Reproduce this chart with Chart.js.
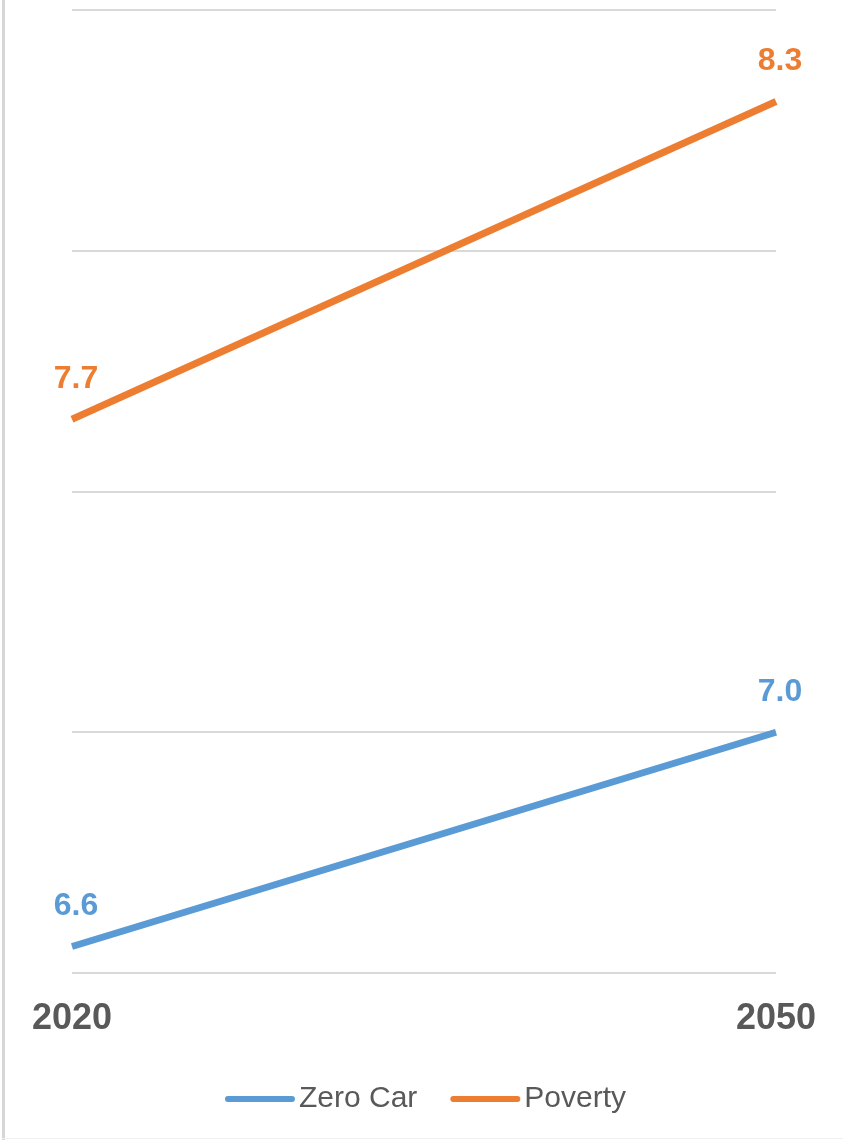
<!DOCTYPE html>
<html>
<head>
<meta charset="utf-8">
<script src="https://cdn.jsdelivr.net/npm/chart.js@4.4.0/dist/chart.umd.min.js"></script>
<style>
    body { margin: 0; background: #fff; }
    .wrap { position: relative; width: 843px; height: 1143px; }
    .frame { position: absolute; left: 2px; top: 0; width: 3px; height: 1140px; background: #d6d6d6; }
    .frame-bottom { position: absolute; left: 2px; top: 1138px; width: 841px; height: 1px; background: #f0f0f0; }
    canvas { position: absolute; left: 0; top: 0; }
</style>
</head>
<body>
<div class="wrap">
    <canvas id="chart" width="843" height="1143"></canvas>
    <div class="frame"></div>
    <div class="frame-bottom"></div>
</div>
<script>
// Data
const years = ['2020', '2050'];
const zeroCar = [6.555, 7.0];
const poverty = [7.65, 8.31];
const seriesNames = ['Zero Car', 'Poverty'];
const seriesColors = ['#5B9BD5', '#ED7D31'];

// value labels above each point
const valueLabels = {
    id: 'valueLabels',
    afterDatasetsDraw(chart) {
        const ctx = chart.ctx;
        ctx.save();
        ctx.font = 'bold 32px Arial, "Liberation Sans", sans-serif';
        ctx.textAlign = 'center';
        ctx.textBaseline = 'middle';
        chart.data.datasets.forEach((ds, i) => {
            const meta = chart.getDatasetMeta(i);
            ctx.fillStyle = ds.borderColor;
            meta.data.forEach((pt, j) => {
                ctx.fillText(ds.data[j].toFixed(1), pt.x + 4, pt.y - 40);
            });
        });
        ctx.restore();
    }
};

// legend with short line markers, drawn by hand
const lineLegend = {
    id: 'lineLegend',
    afterDraw(chart) {
        const ctx = chart.ctx;
        const y = 1099;
        const lineLen = 70;
        const gapText = 4;
        const gapItems = 33;
        ctx.save();
        ctx.font = '30px Arial, "Liberation Sans", sans-serif';
        ctx.textBaseline = 'middle';
        let total = 0;
        chart.data.datasets.forEach((ds, i) => {
            total += lineLen + gapText + ctx.measureText(ds.label).width;
            if (i > 0) total += gapItems;
        });
        let x = (chart.width - total) / 2 + 4;
        chart.data.datasets.forEach(ds => {
            ctx.strokeStyle = ds.borderColor;
            ctx.lineWidth = 6;
            ctx.lineCap = 'round';
            ctx.beginPath();
            ctx.moveTo(x + 3, y);
            ctx.lineTo(x + lineLen - 3, y);
            ctx.stroke();
            x += lineLen + gapText;
            ctx.fillStyle = '#595959';
            ctx.fillText(ds.label, x, y);
            x += ctx.measureText(ds.label).width + gapItems;
        });
        ctx.restore();
    }
};

const ctx = document.getElementById('chart').getContext('2d');
new Chart(ctx, {
    type: 'line',
    data: {
        labels: years,
        datasets: [{
            label: seriesNames[0],
            data: zeroCar,
            borderColor: seriesColors[0],
            backgroundColor: seriesColors[0],
            borderWidth: 7,
            pointRadius: 0,
            tension: 0
        }, {
            label: seriesNames[1],
            data: poverty,
            borderColor: seriesColors[1],
            backgroundColor: seriesColors[1],
            borderWidth: 7,
            pointRadius: 0,
            tension: 0
        }]
    },
    options: {
        responsive: false,
        animation: false,
        layout: {
            padding: { left: 72, right: 67, top: 10, bottom: 70 }
        },
        plugins: {
            legend: { display: false },
            tooltip: { enabled: false }
        },
        scales: {
            x: {
                offset: false,
                grid: { display: false, drawTicks: false },
                border: { display: false },
                ticks: {
                    color: '#595959',
                    font: { family: 'Arial, "Liberation Sans", sans-serif', size: 36, weight: 'bold' },
                    padding: 24,
                    maxRotation: 0
                },
                afterFit(scale) { scale.height = 100; }
            },
            y: {
                min: 6.5,
                max: 8.5,
                ticks: { display: false, stepSize: 0.5 },
                border: { display: false },
                grid: { color: '#d9d9d9', lineWidth: 2, drawTicks: false },
                afterFit(scale) { scale.width = 0; }
            }
        }
    },
    plugins: [valueLabels, lineLegend]
});
</script>
</body>
</html>
